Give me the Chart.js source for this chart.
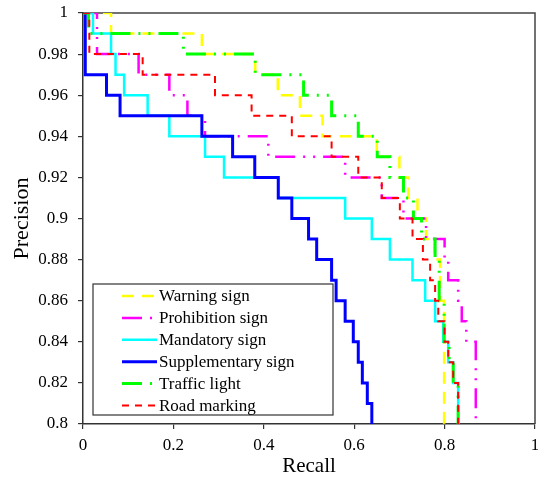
<!DOCTYPE html>
<html>
<head>
<meta charset="utf-8">
<script src="https://cdn.jsdelivr.net/npm/chart.js@4.4.1/dist/chart.umd.min.js"></script>
<style>
    html, body { margin: 0; padding: 0; background: #fff; }
    #wrap { width: 538px; height: 483px; }
</style>
</head>
<body>
<div id="wrap"><canvas id="prChart" width="538" height="483"></canvas></div>
<script>
// series names (legend order)
const seriesNames = ["Warning sign", "Prohibition sign", "Mandatory sign", "Supplementary sign", "Traffic light", "Road marking"]

// each point = recall where the curve drops, precision after the drop
const warningRecall = [0, 0.062, 0.263, 0.381, 0.431, 0.480, 0.530, 0.650, 0.700, 0.720, 0.740, 0.759, 0.777, 0.790, 0.799]
const warningPrecision = [1, 0.99, 0.98, 0.97, 0.96, 0.95, 0.94, 0.93, 0.92, 0.91, 0.90, 0.89, 0.88, 0.86, 0.80]

const prohibitionRecall = [0, 0.031, 0.123, 0.191, 0.231, 0.270, 0.410, 0.580, 0.661, 0.709, 0.759, 0.800, 0.808, 0.830, 0.838, 0.848, 0.869]
const prohibitionPrecision = [1, 0.98, 0.97, 0.96, 0.95, 0.94, 0.93, 0.92, 0.91, 0.90, 0.89, 0.88, 0.87, 0.86, 0.85, 0.84, 0.80]

const mandatoryRecall = [0, 0.022, 0.062, 0.072, 0.091, 0.143, 0.191, 0.270, 0.312, 0.432, 0.580, 0.639, 0.679, 0.729, 0.757, 0.779, 0.797, 0.808, 0.819, 0.830]
const mandatoryPrecision = [1, 0.99, 0.98, 0.97, 0.96, 0.95, 0.94, 0.93, 0.92, 0.91, 0.90, 0.89, 0.88, 0.87, 0.86, 0.85, 0.84, 0.83, 0.82, 0.80]

const supplementaryRecall = [0.005, 0.005, 0.052, 0.082, 0.263, 0.331, 0.380, 0.432, 0.462, 0.499, 0.517, 0.550, 0.560, 0.580, 0.598, 0.609, 0.618, 0.629, 0.639]
const supplementaryPrecision = [1, 0.97, 0.96, 0.95, 0.94, 0.93, 0.92, 0.91, 0.90, 0.89, 0.88, 0.87, 0.86, 0.85, 0.84, 0.83, 0.82, 0.81, 0.80]

const trafficRecall = [0, 0.012, 0.222, 0.381, 0.488, 0.550, 0.609, 0.651, 0.679, 0.709, 0.731, 0.749, 0.779, 0.788, 0.799, 0.810, 0.819, 0.830]
const trafficPrecision = [1, 0.99, 0.98, 0.97, 0.96, 0.95, 0.94, 0.93, 0.92, 0.91, 0.90, 0.89, 0.88, 0.86, 0.84, 0.83, 0.82, 0.80]

const roadRecall = [0, 0.014, 0.132, 0.292, 0.373, 0.462, 0.550, 0.609, 0.661, 0.701, 0.729, 0.752, 0.768, 0.779, 0.786, 0.800, 0.808, 0.819, 0.830]
const roadPrecision = [1, 0.98, 0.97, 0.96, 0.95, 0.94, 0.93, 0.92, 0.91, 0.90, 0.89, 0.88, 0.87, 0.86, 0.85, 0.84, 0.83, 0.82, 0.80]

// axis ticks
const xTicks = [0, 0.2, 0.4, 0.6, 0.8, 1]
const yTicks = [0.8, 0.82, 0.84, 0.86, 0.88, 0.9, 0.92, 0.94, 0.96, 0.98, 1]

const serif = "'Liberation Serif', 'Times New Roman', serif"
const toPoints = (rs, ps) => rs.map((r, i) => ({ x: r, y: ps[i] }))

const styles = [
    { color: "#ffff00", width: 2.5, dash: [12, 8] },
    { color: "#ff00ff", width: 2.5, dash: [20, 8, 2, 8, 2, 8] },
    { color: "#00ffff", width: 2.5, dash: [] },
    { color: "#0000ff", width: 3, dash: [] },
    { color: "#00ff00", width: 3, dash: [20, 8, 2, 8, 2, 8] },
    { color: "#ff0000", width: 2, dash: [7, 6] }
]
const seriesData = [
    toPoints(warningRecall, warningPrecision),
    toPoints(prohibitionRecall, prohibitionPrecision),
    toPoints(mandatoryRecall, mandatoryPrecision),
    toPoints(supplementaryRecall, supplementaryPrecision),
    toPoints(trafficRecall, trafficPrecision),
    toPoints(roadRecall, roadPrecision)
]

const datasets = seriesNames.map((name, i) => ({
    label: name,
    data: seriesData[i],
    borderColor: styles[i].color,
    backgroundColor: styles[i].color,
    borderWidth: styles[i].width,
    borderDash: styles[i].dash,
    borderCapStyle: "butt",
    stepped: true,
    pointRadius: 0,
    fill: false,
    order: seriesNames.length - i
}))

// top and right edges of the plot box
const frame = {
    id: "frame",
    beforeDatasetsDraw(chart) {
        const { ctx, chartArea: a } = chart
        ctx.save()
        ctx.strokeStyle = "#444"
        ctx.lineWidth = 1.5
        ctx.beginPath()
        ctx.moveTo(a.left, a.top)
        ctx.lineTo(a.right, a.top)
        ctx.lineTo(a.right, a.bottom)
        ctx.stroke()
        ctx.restore()
    }
}

// boxed legend inside the plot, lower left
const boxLegend = {
    id: "boxLegend",
    afterDraw(chart) {
        const { ctx, chartArea } = chart
        const left = chartArea.left + 10
        const top = chartArea.bottom - 140
        ctx.save()
        ctx.fillStyle = "#fff"
        ctx.fillRect(left, top, 240, 131)
        ctx.strokeStyle = "#333"
        ctx.lineWidth = 1.2
        ctx.strokeRect(left, top, 240, 131)
        chart.data.datasets.forEach((ds, i) => {
            const y = top + 12 + i * 21.9
            ctx.strokeStyle = ds.borderColor
            ctx.lineWidth = ds.borderWidth
            ctx.lineCap = "butt"
            ctx.setLineDash(ds.borderDash)
            ctx.beginPath()
            ctx.moveTo(left + 29, y)
            ctx.lineTo(left + 64, y)
            ctx.stroke()
            ctx.setLineDash([])
            ctx.fillStyle = "#000"
            ctx.font = "17px " + serif
            ctx.textBaseline = "middle"
            ctx.fillText(ds.label, left + 66, y + 1)
        })
        ctx.restore()
    }
}

const ctx = document.getElementById("prChart").getContext("2d")
const prChart = new Chart(ctx, {
    type: "line",
    data: { datasets },
    plugins: [frame, boxLegend],
    options: {
        responsive: false,
        animation: false,
        devicePixelRatio: 1,
        layout: { padding: { top: 13, right: 3, left: 0, bottom: 0 } },
        plugins: {
            legend: { display: false },
            tooltip: { enabled: false }
        },
        scales: {
            x: {
                type: "linear",
                min: 0,
                max: 1,
                afterFit: (s) => { s.height = 59; s.paddingRight = 0; s.paddingLeft = 0 },
                afterBuildTicks: (s) => { s.ticks = xTicks.map(v => ({ value: v })) },
                border: { color: "#333", width: 1.5 },
                grid: { drawOnChartArea: false, drawTicks: true, tickLength: 5, color: "#333", lineWidth: 1.2 },
                ticks: {
                    color: "#000",
                    padding: 6,
                    maxRotation: 0,
                    font: { family: serif, size: 17 },
                    callback: (v) => String(Number(v.toFixed(2)))
                },
                title: {
                    display: true,
                    text: "Recall",
                    color: "#000",
                    font: { family: serif, size: 21 },
                    padding: { top: 0, bottom: 4 }
                }
            },
            y: {
                min: 0.8,
                max: 1,
                afterFit: (s) => { s.width = 83; s.paddingTop = 0; s.paddingBottom = 0 },
                afterBuildTicks: (s) => { s.ticks = yTicks.map(v => ({ value: v })) },
                border: { color: "#333", width: 1.5 },
                grid: { drawOnChartArea: false, drawTicks: true, tickLength: 5, color: "#333", lineWidth: 1.2 },
                ticks: {
                    color: "#000",
                    padding: 10,
                    font: { family: serif, size: 17 },
                    callback: (v) => String(Number(v.toFixed(2)))
                },
                title: {
                    display: true,
                    text: "Precision",
                    color: "#000",
                    font: { family: serif, size: 22 },
                    padding: { top: 9, bottom: 0 }
                }
            }
        }
    }
})
</script>
</body>
</html>
